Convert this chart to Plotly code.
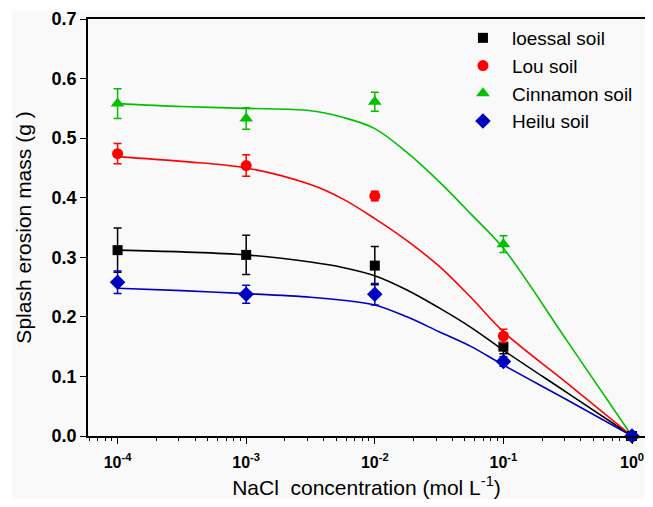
import plotly.graph_objects as go

# ---- data ----
conc = [1e-4, 1e-3, 1e-2, 1e-1, 1e0]
series_names = ["loessal soil", "Lou soil", "Cinnamon soil", "Heilu soil"]
loessal = [0.312, 0.304, 0.286, 0.150, 0.0]
loessal_err = [0.037, 0.033, 0.032, 0.012, 0.0]
lou = [0.474, 0.454, 0.403, 0.168, 0.0]
lou_err = [0.017, 0.018, 0.008, 0.011, 0.0]
cinnamon = [0.558, 0.533, 0.561, 0.322, 0.0]
cinnamon_err = [0.025, 0.018, 0.016, 0.014, 0.0]
heilu = [0.258, 0.238, 0.238, 0.125, 0.0]
heilu_err = [0.019, 0.015, 0.018, 0.008, 0.0]

# fitted curves
fit_x = [1e-4, 10**-3.5, 1e-3, 10**-2.5, 10**-2.25, 1e-2, 10**-1.75, 10**-1.5, 10**-1.25, 1e-1, 10**-0.5, 1e0]
fit_loessal = [0.312, 0.309, 0.304, 0.292, 0.283, 0.269, 0.245, 0.215, 0.182, 0.144, 0.072, 0.0]
fit_lou = [0.469, 0.461, 0.450, 0.422, 0.398, 0.365, 0.328, 0.285, 0.232, 0.175, 0.088, 0.0]
fit_cinnamon = [0.558, 0.553, 0.550, 0.546, 0.535, 0.516, 0.476, 0.427, 0.372, 0.315, 0.158, 0.0]
fit_heilu = [0.248, 0.244, 0.239, 0.233, 0.228, 0.220, 0.200, 0.175, 0.150, 0.119, 0.060, 0.0]

x_tickvals = [1e-4, 1e-3, 1e-2, 1e-1, 1e0]
x_ticktext = ["10<sup>-4</sup>", "10<sup>-3</sup>", "10<sup>-2</sup>", "10<sup>-1</sup>", "10<sup>0</sup>"]
x_minor = [m * 10.0 ** e for e in range(-5, 1) for m in range(2, 10)]
y_tickvals = [0.0, 0.1, 0.2, 0.3, 0.4, 0.5, 0.6, 0.7]

colors = ["#000000", "#ff0000", "#00c000", "#0000c0"]
symbols = ["square", "circle", "triangle-up", "diamond"]
sizes = [10, 11, 12, 12]

fig = go.Figure()
fits = [fit_loessal, fit_lou, fit_cinnamon, fit_heilu]
vals = [loessal, lou, cinnamon, heilu]
errs = [loessal_err, lou_err, cinnamon_err, heilu_err]

for f, c in zip(fits, colors):
    fig.add_trace(go.Scatter(x=fit_x, y=f, mode="lines", line=dict(color=c, width=1.6, shape="spline", smoothing=1.0),
                             showlegend=False, hoverinfo="skip", cliponaxis=False))

for name, v, e, c, s, sz in zip(series_names, vals, errs, colors, symbols, sizes):
    fig.add_trace(go.Scatter(x=conc, y=v, mode="markers", name=name,
                             marker=dict(color=c, symbol=s, size=sz, line=dict(width=0)),
                             error_y=dict(type="data", array=e, color=c, thickness=1.5, width=4),
                             cliponaxis=False))

fig.update_layout(
    width=637, height=491,
    margin=dict(l=80, r=0, t=11, b=63),
    paper_bgcolor="#ffffff",
    plot_bgcolor="#f9f9f9",
    font=dict(family="Liberation Sans, Arial", color="#000000"),
    legend=dict(x=0.657, y=1.0, xanchor="left", yanchor="top", bgcolor="rgba(0,0,0,0)",
                font=dict(size=19), itemwidth=48, tracegroupgap=0),
    shapes=[dict(type="rect", xref="paper", yref="paper", x0=-0.137, x1=1.02, y0=-0.2, y1=1.019,
                 fillcolor="#f9f9f9", line=dict(width=0), layer="below")],
)

fig.update_xaxes(
    type="log", range=[-4.23, 0.101], automargin=False,
    tickvals=x_tickvals, ticktext=x_ticktext,
    ticks="outside", ticklen=6, tickwidth=1.2, tickcolor="#000",
    minor=dict(tickvals=x_minor, ticks="outside", ticklen=3, tickwidth=1, tickcolor="#000"),
    showline=True, linecolor="#000", linewidth=1.5, mirror=True,
    showgrid=False, zeroline=False, ticklabelstandoff=5,
    tickfont=dict(size=16, family="Liberation Sans, Arial", weight="bold"),
    title=dict(text="NaCl  concentration (mol L<sup>-1</sup>)", font=dict(size=21), standoff=17),
)
fig.update_yaxes(
    range=[0, 0.7], tickvals=y_tickvals, tickformat=".1f", automargin=False,
    ticks="outside", ticklen=6, tickwidth=1.2, tickcolor="#000",
    showline=True, linecolor="#000", linewidth=1.5, mirror=False,
    showgrid=False, zeroline=False,
    tickfont=dict(size=18, family="Liberation Sans, Arial", weight="bold"),
    title=dict(text="Splash erosion mass (g )", font=dict(size=21), standoff=14),
)

fig.write_html("out.html")
